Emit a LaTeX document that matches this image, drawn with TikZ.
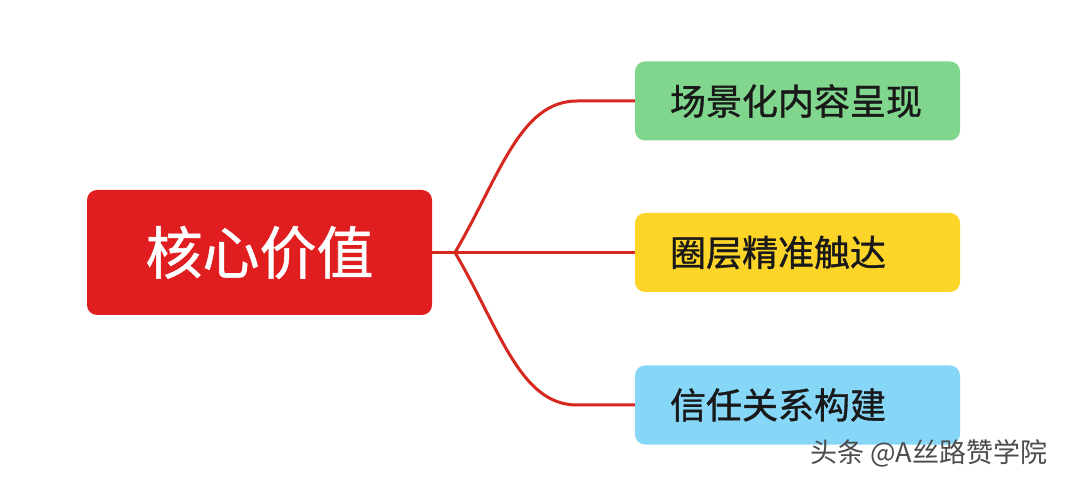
\documentclass[tikz,border=0pt]{standalone}
\usepackage{fontspec}
\newfontfamily\cjk{Noto Sans CJK SC}
\newfontfamily\cjkb{Noto Sans CJK SC}[FakeBold=1]
\definecolor{corered}{RGB}{224,30,32}
\definecolor{linered}{RGB}{214,40,30}
\definecolor{bgreen}{RGB}{128,214,140}
\definecolor{byellow}{RGB}{253,212,40}
\definecolor{bblue}{RGB}{134,214,248}
\tikzset{
  corebox/.style={fill=corered, rounded corners=10pt, minimum width=345pt, minimum height=125pt, text=white, font=\cjkb\fontsize{57}{60}\selectfont, inner sep=0pt},
  branchbox/.style={rounded corners=10pt, minimum width=325pt, minimum height=79pt, text width=255pt, inner xsep=35pt, inner ysep=0pt, align=left, text=black!90, font=\cjkb\fontsize{36}{40}\selectfont},
  conn/.style={draw=linered, line width=3pt}
}
\begin{document}
\begin{tikzpicture}[x=1pt,y=1pt]
\useasboundingbox (0,0) rectangle (1068,482);
\fill[white] (0,0) rectangle (1068,482);
\node[corebox] (core) at (259.5,229.5) {核心价值};
\node[branchbox, fill=bgreen] (g) at (797.5,381) {场景化内容呈现};
\node[branchbox, fill=byellow] (y) at (797.5,229.5) {圈层精准触达};
\node[branchbox, fill=bblue] (b) at (797.5,77) {信任关系构建};
\coordinate (j) at (455,229.5);
\coordinate (gbend) at (577,381);
\coordinate (bbend) at (577,77);
\draw[conn] (core.east) -- (j);
\draw[conn] (j) .. controls (500,306.5) and (520,381) .. (gbend) -- (g.west);
\draw[conn] (j) -- (y.west);
\draw[conn] (j) .. controls (500,152.5) and (520,77) .. (bbend) -- (b.west);
\node[anchor=west, inner sep=0pt, text=black!70, font=\cjk\fontsize{27}{30}\selectfont] (wm) at (810,29) {头条 @A丝路赞学院};
\end{tikzpicture}
\end{document}
